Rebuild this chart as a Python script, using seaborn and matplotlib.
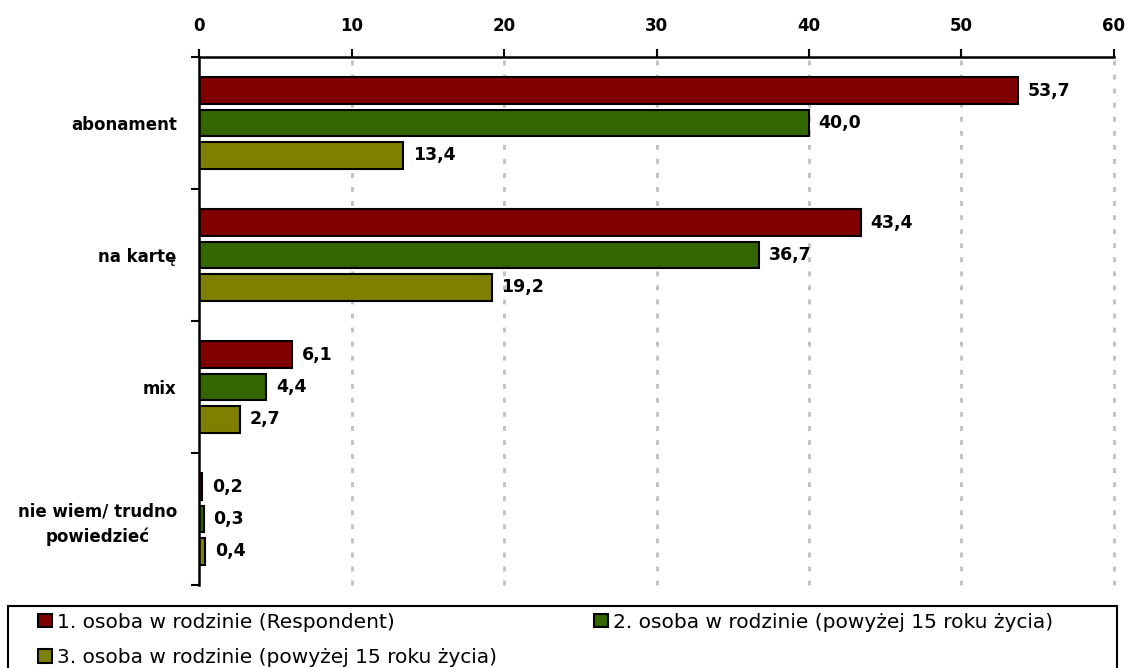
import matplotlib
matplotlib.use("Agg")
import matplotlib.pyplot as plt
from matplotlib.patches import Patch, Rectangle
import seaborn as sns
import pandas as pd

categories = ["abonament", "na kartę", "mix", "nie wiem/ trudno\npowiedzieć"]
series = [
    "1. osoba w rodzinie (Respondent)",
    "2. osoba w rodzinie (powyżej 15 roku życia)",
    "3. osoba w rodzinie (powyżej 15 roku życia)",
]
person1 = [53.7, 43.4, 6.1, 0.2]
person2 = [40.0, 36.7, 4.4, 0.3]
person3 = [13.4, 19.2, 2.7, 0.4]
colors = ["#800000", "#336600", "#808000"]
xticks = [0, 10, 20, 30, 40, 50, 60]

rows = []
for name, vals in zip(series, [person1, person2, person3]):
    for cat, v in zip(categories, vals):
        rows.append({"kategoria": cat, "osoba": name, "wartosc": v})
df = pd.DataFrame(rows)

sns.set_theme(style="white")
plt.rcParams["font.family"] = ["DejaVu Sans"]
plt.rcParams["text.color"] = "black"
plt.rcParams["xtick.color"] = "black"
plt.rcParams["ytick.color"] = "black"
plt.rcParams["axes.labelcolor"] = "black"

fig = plt.figure(figsize=(11.29, 6.68), dpi=100)
ax = fig.add_axes([0.1763, 0.1243, 0.8104, 0.7904])

sns.barplot(data=df, y="kategoria", x="wartosc", hue="osoba", order=categories,
            hue_order=series, palette=colors, orient="h", width=0.735, gap=0.18,
            edgecolor="black", linewidth=1.5, saturation=1, ax=ax, legend=False)

ax.set_xlim(0, 60)
ax.set_ylim(3.5, -0.5)
ax.set_xlabel("")
ax.set_ylabel("")

# dotted vertical grid
for x in xticks[1:]:
    ax.axvline(x, color="#c4c4c4", linestyle=(0, (1.6, 3.0)), linewidth=2.2,
               zorder=0, clip_on=False)

ax.xaxis.tick_top()
ax.set_xticks(xticks)
ax.set_xticklabels([str(t) for t in xticks], fontweight="bold", fontsize=12)
ax.tick_params(axis="x", which="major", direction="out", length=6, width=1.5,
               color="black", pad=10, top=True, bottom=False)

ax.set_yticks(range(len(categories)))
ax.set_yticklabels(categories, fontweight="bold", fontsize=12, linespacing=1.5)
ax.tick_params(axis="y", which="major", length=0, pad=16)
ax.set_yticks([-0.5, 0.5, 1.5, 2.5, 3.5], minor=True)
ax.tick_params(axis="y", which="minor", direction="out", length=6, width=1.5,
               color="black", left=True)
for lbl in ax.get_yticklabels():
    lbl.set_horizontalalignment("right")
    lbl.set_multialignment("center")

for side in ["right", "bottom"]:
    ax.spines[side].set_visible(False)
for side in ["top", "left"]:
    ax.spines[side].set_color("black")
    ax.spines[side].set_linewidth(1.8)

for container in ax.containers:
    labels = [f"{v:.1f}".replace(".", ",") for v in container.datavalues]
    ax.bar_label(container, labels=labels, padding=7, fontweight="bold", fontsize=12.5)

# legend below the plot: items 1 and 3 in the left column, item 2 on the right
handles = [Patch(facecolor=c, edgecolor="black", linewidth=1.5) for c in colors]
legend_kw = dict(loc="upper left", frameon=False, prop={"size": 14.5},
                 handlelength=0.7, handleheight=0.62, handletextpad=0.25,
                 borderaxespad=0, borderpad=0, labelspacing=0.8)
leg_left = fig.legend([handles[0], handles[2]], [series[0], series[2]],
                      bbox_to_anchor=(38 / 1129, 1 - 613 / 668), **legend_kw)
leg_right = fig.legend([handles[1]], [series[1]],
                       bbox_to_anchor=(594 / 1129, 1 - 613 / 668), **legend_kw)

fig.patches.append(Rectangle((8 / 1129, -0.02), (1117 - 8) / 1129, 0.02 + 1 - 606 / 668,
                             transform=fig.transFigure, fill=False,
                             edgecolor="black", linewidth=1.5))

fig.savefig("out.png", dpi=100)
